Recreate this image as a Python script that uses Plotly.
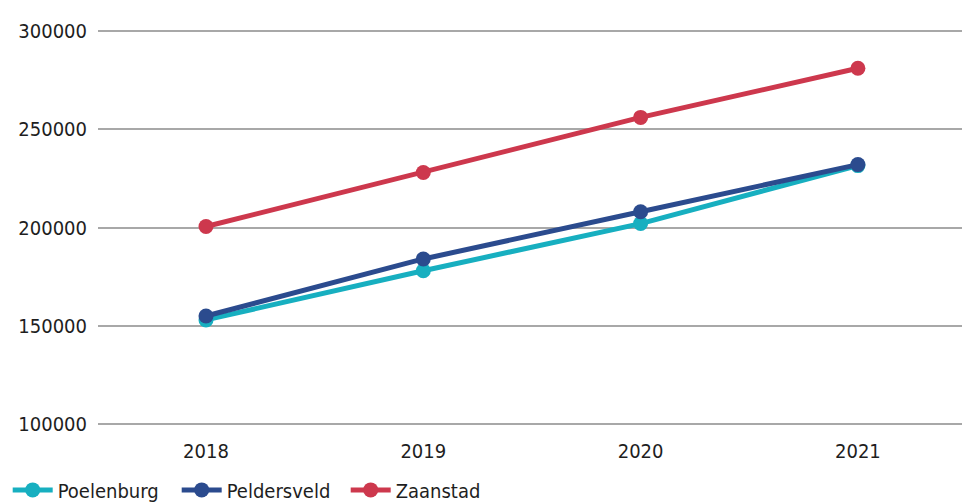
import plotly.graph_objects as go

years = ["2018", "2019", "2020", "2021"]
poelenburg = [153000, 178000, 202000, 231500]
peldersveld = [155000, 184000, 208000, 232000]
zaanstad = [200500, 228000, 256000, 281000]
y_ticks = [100000, 150000, 200000, 250000, 300000]

series = [
    ("Poelenburg", poelenburg, "#17AFC0"),
    ("Peldersveld", peldersveld, "#2B4B8E"),
    ("Zaanstad", zaanstad, "#CD384D"),
]

fig = go.Figure()
for name, vals, col in series:
    fig.add_trace(go.Scatter(
        x=years, y=vals, name=name, mode="lines+markers",
        line=dict(color=col, width=5),
        marker=dict(color=col, size=15),
        cliponaxis=False,
    ))

font_family = "DejaVu Sans"

fig.update_layout(
    width=962, height=503,
    margin=dict(l=98, r=0, t=27, b=75, autoexpand=False),
    plot_bgcolor="white", paper_bgcolor="white",
    font=dict(family=font_family, size=20, color="#1e1e1e"),
    showlegend=True,
    legend=dict(orientation="h", xref="container", x=0.008, xanchor="left",
                yref="container", y=0.026, yanchor="middle",
                itemwidth=40, entrywidth=114,
                font=dict(size=20), tracegroupgap=0),
    xaxis=dict(type="category", range=[-0.497, 3.479], showgrid=False,
               zeroline=False, showline=False, ticks="", ticklabelstandoff=9),
    yaxis=dict(range=[98000, 302000], tickvals=y_ticks,
               ticktext=[str(v) for v in y_ticks],
               showgrid=True, gridcolor="#a8a8a8", gridwidth=1.5,
               zeroline=False, showline=False, ticks="", ticklabelstandoff=10),
)

post = """
document.body.style.margin = '0';
var st = document.createElement('style');
st.textContent = 'svg text { font-stretch: condensed !important; }';
document.head.appendChild(st);
"""

fig.write_html("out.html", post_script=post, config={"displayModeBar": False})
